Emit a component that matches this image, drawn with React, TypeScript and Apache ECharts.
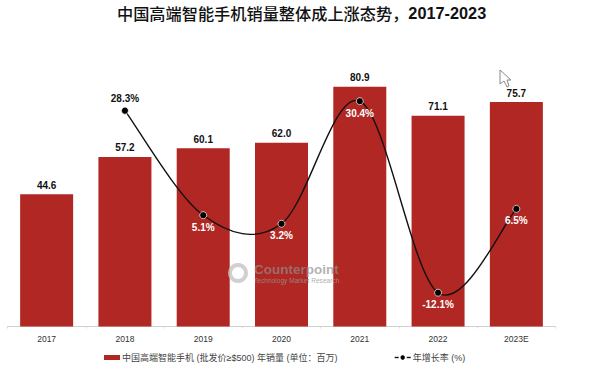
import React, { useEffect, useRef } from "react";
import * as echarts from "echarts";

const categories = ["2017", "2018", "2019", "2020", "2021", "2022", "2023E"];
const volumes = [44.6, 57.2, 60.1, 62.0, 80.9, 71.1, 75.7];
const growth: (number | null)[] = [null, 28.3, 5.1, 3.2, 30.4, -12.1, 6.5];
const barName = "中国高端智能手机 (批发价≥$500) 年销量 (单位：百万)";
const lineName = "年增长率 (%)";
const titleCjk = "中国高端智能手机销量整体成上涨态势，";
const titleYears = "2017-2023";
const FONT = "'Liberation Sans','Noto Sans CJK SC',sans-serif";

const linePoints = growth
  .map((v, i) => [i, v] as [number, number | null])
  .filter((p) => p[1] !== null) as [number, number][];

function smoothCurve(params: any, api: any) {
  if (params.dataIndex !== 0) return null;
  const pts = linePoints.map((p) => api.coord(p));
  let d = `M${pts[0][0]} ${pts[0][1]}`;
  for (let i = 0; i < pts.length - 1; i++) {
    const p0 = pts[Math.max(i - 1, 0)];
    const p1 = pts[i];
    const p2 = pts[i + 1];
    const p3 = pts[Math.min(i + 2, pts.length - 1)];
    const c1x = p1[0] + (p2[0] - p0[0]) / 6;
    const c1y = p1[1] + (p2[1] - p0[1]) / 6;
    const c2x = p2[0] - (p3[0] - p1[0]) / 6;
    const c2y = p2[1] - (p3[1] - p1[1]) / 6;
    d += ` C${c1x} ${c1y} ${c2x} ${c2y} ${p2[0]} ${p2[1]}`;
  }
  return {
    type: "path",
    shape: { pathData: d },
    style: { fill: "none", stroke: "#111", lineWidth: 1.4 },
  };
}

export default function App() {
  const ref = useRef<HTMLDivElement>(null);
  useEffect(() => {
    const chart = echarts.init(ref.current!, undefined, { renderer: "svg" });
    chart.setOption({
      animation: false,
      backgroundColor: "#fff",
      textStyle: { fontFamily: FONT },
      title: {
        text: `{a|${titleCjk}}{b|${titleYears}}`,
        left: 117,
        top: 5,
        padding: 0,
        textStyle: {
          rich: {
            a: { fontSize: 16.2, fontWeight: 500, color: "#111", fontFamily: "'Noto Sans CJK SC',sans-serif" },
            b: { fontSize: 16.3, fontWeight: "bold", color: "#111", fontFamily: "'Liberation Sans',sans-serif" },
          },
        },
      },
      grid: { left: 7.5, right: 39.5, top: 30, bottom: 49.5 },
      legend: [
        {
          data: [{ name: barName, icon: "rect" }],
          left: 104,
          top: 353,
          padding: 0,
          itemWidth: 16,
          itemHeight: 5,
          itemGap: 0,
          textStyle: { fontSize: 9, color: "#444", padding: [0, 0, 0, -3] },
        },
        {
          data: [lineName],
          left: 394,
          top: 353,
          padding: 0,
          itemWidth: 16,
          itemHeight: 8,
          lineStyle: { color: "#111", width: 1.4, opacity: 1 },
          textStyle: { fontSize: 9, color: "#444", padding: [0, 0, 0, -3] },
        },
      ],
      xAxis: {
        type: "category",
        data: categories,
        axisLine: { lineStyle: { color: "#d0d0d0" } },
        axisTick: { show: true, length: 2, lineStyle: { color: "#dddddd" } },
        axisLabel: { fontSize: 8.5, color: "#333", margin: 8 },
      },
      yAxis: [
        { type: "value", min: 0, max: 100, show: false, splitLine: { show: false } },
        { type: "value", min: -19.6, max: 46.2, show: false, splitLine: { show: false } },
      ],
      series: [
        {
          name: barName,
          type: "bar",
          data: volumes,
          barWidth: 53,
          itemStyle: { color: "#b02723" },
          label: {
            show: true,
            position: "top",
            distance: 4,
            fontSize: 10,
            fontWeight: "bold",
            color: "#111",
            formatter: (p: any) => p.value.toFixed(1),
          },
        },
        {
          type: "custom",
          name: "curve",
          xAxisIndex: 0,
          yAxisIndex: 1,
          silent: true,
          z: 3,
          data: linePoints,
          renderItem: smoothCurve,
        },
        {
          name: lineName,
          type: "line",
          yAxisIndex: 1,
          z: 4,
          data: growth.map((v, i) => ({
            value: v,
            label: { position: i === 1 ? "top" : "bottom", color: i === 1 ? "#111" : "#fff" },
          })),
          symbol: "circle",
          symbolSize: 7,
          lineStyle: { color: "#111", width: 1.4, opacity: 0 },
          itemStyle: { color: "#000", borderColor: "#fff", borderWidth: 0.7 },
          label: {
            show: true,
            distance: 3,
            fontSize: 10,
            fontWeight: "bold",
            formatter: (p: any) => `${p.value.toFixed(1)}%`,
          },
          emphasis: { disabled: true },
        },
      ],
      graphic: [
        {
          type: "ring",
          shape: { cx: 238, cy: 273, r: 10, r0: 6 },
          style: { fill: "#c4c4c4", opacity: 0.8 },
          z: 20,
        },
        {
          type: "text",
          x: 254,
          y: 263,
          style: { text: "Counterpoint", font: "bold 13.5px " + FONT, fill: "#8f8f8f", opacity: 0.7 },
          z: 20,
        },
        {
          type: "text",
          x: 254,
          y: 277,
          style: { text: "Technology Market Research", font: "6.6px " + FONT, fill: "#999", opacity: 0.8 },
          z: 20,
        },
        {
          type: "polygon",
          shape: { points: [[500, 70], [500, 84], [504, 81], [507, 87], [509, 86], [507, 80], [511, 80]] },
          style: { fill: "#fff", stroke: "#888", lineWidth: 1 },
          z: 20,
        },
      ],
    });
    return () => chart.dispose();
  }, []);
  return <div ref={ref} style={{ position: "fixed", left: 0, top: 0, width: 595, height: 376 }} />;
}
